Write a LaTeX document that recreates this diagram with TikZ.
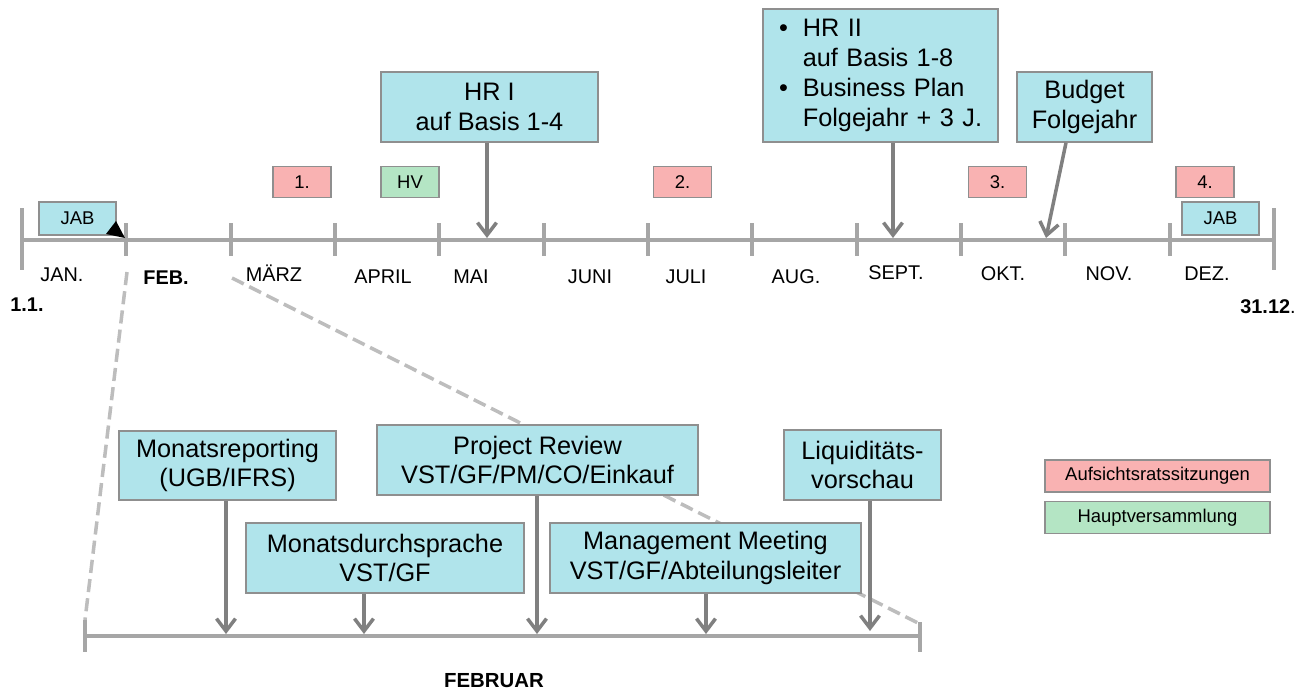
\documentclass[tikz,border=0pt]{standalone}
\usepackage{fontspec}
\setmainfont{Liberation Sans}
\usetikzlibrary{arrows.meta}
\definecolor{boxcyan}{HTML}{B0E4EB}
\definecolor{boxred}{HTML}{F9B2B2}
\definecolor{boxgreen}{HTML}{B4E5C4}
\definecolor{framegray}{HTML}{8F8F8F}
\definecolor{linegray}{HTML}{A6A6A6}
\definecolor{arrowgray}{HTML}{808080}
\definecolor{dashgray}{HTML}{BDBDBD}

\begin{document}
\begin{tikzpicture}[x=0.02cm,y=-0.02cm,
  axis/.style={draw=linegray,line width=2.3pt},
  zoomline/.style={draw=dashgray,line width=2pt,dash pattern=on 7.5pt off 3.5pt},
  arr/.style={draw=arrowgray,line width=2pt,-{Straight Barb[length=0.25cm,width=0.38cm]}},
  box/.style={draw=framegray,line width=0.8pt,fill=boxcyan,inner sep=0pt,
    align=center,font=\fontsize{14.4}{17}\selectfont},
  tag/.style={draw=framegray,line width=0.8pt,inner sep=0pt,minimum width=1.16cm,
    minimum height=0.62cm,font=\fontsize{10.5}{12}\selectfont},
  month/.style={font=\fontsize{11.3}{13}\selectfont}]
\useasboundingbox (0,0) rectangle (1308,691);

% Jahresachse
\coordinate (jan1) at (22,240);
\coordinate (dec31) at (1274,240);
\draw[axis] (jan1) -- (dec31);
\draw[axis] (22,208) -- (22,270);
\draw[axis] (1274,208) -- (1274,270);
\foreach \i in {1,...,11}
  \draw[axis] ({22+104.33*\i},223) -- ++(0,33);

\node[month] (mjan) at (62,275) {JAN.};
\node[month,font=\fontsize{11.3}{13}\selectfont\bfseries] (mfeb) at (166,278) {FEB.};
\node[month] (mmar) at (274,273) {MÄRZ};
\node[month] (mapr) at (383,277) {APRIL};
\node[month] (mmai) at (471,277) {MAI};
\node[month] (mjun) at (590,277) {JUNI};
\node[month] (mjul) at (686,277) {JULI};
\node[month] (maug) at (796,277) {AUG.};
\node[month] (msep) at (896,273) {SEPT.};
\node[month] (mokt) at (1003,274) {OKT.};
\node[month] (mnov) at (1109,274) {NOV.};
\node[month] (mdez) at (1207,274) {DEZ.};
\node[month,font=\fontsize{11.3}{13}\selectfont\bfseries] (start) at (27,305) {1.1.};
\node[month] (end) at (1268,307) {\textbf{31.12}.};

% Lupe Februar
\coordinate (febl) at (127,272);
\coordinate (febr) at (232,278);
\coordinate (feb1) at (85,636);
\coordinate (feb28) at (920,636);
\draw[zoomline] (febl) -- (85,620);
\draw[zoomline] (febr) -- (920,624);
\draw[axis] (feb1) -- (feb28);
\draw[axis] (85,620) -- (85,652);
\draw[axis] (920,622) -- (920,652);
\node[month,font=\fontsize{11.6}{13}\selectfont\bfseries] (februar) at (494,681) {FEBRUAR};

% Sitzungen
\node[tag,fill=boxred] (ar1) at (302,182) {1.};
\node[tag,fill=boxgreen] (hv) at (410,182) {HV};
\node[tag,fill=boxred] (ar2) at (682.5,182) {2.};
\node[tag,fill=boxred] (ar3) at (997.5,182) {3.};
\node[tag,fill=boxred] (ar4) at (1205,182) {4.};
\node[tag,fill=boxcyan,minimum width=1.54cm,minimum height=0.66cm] (jabjan) at (77.5,218.5) {JAB};
\node[tag,fill=boxcyan,minimum width=1.54cm,minimum height=0.66cm] (jabdez) at (1220.5,218.5) {JAB};
\fill[black] (106,234) -- (116,221) -- (125,238) -- cycle;

% Hochrechnungen und Budget
\node[box,minimum width=4.34cm,minimum height=1.4cm] (hr1) at (489.5,107) {HR I\\auf Basis 1-4};
\node[box,minimum width=4.7cm,minimum height=2.66cm,text width=4.06cm,align=left] (hr2) at (880.5,75.5)
  {\begin{tabular}{@{}l@{\hspace{8.5pt}}l@{}}
   \textbullet & HR II\\ & auf Basis 1-8\\ \textbullet & Business Plan\\ & Folgejahr + 3 J.
   \end{tabular}};
\node[box,minimum width=2.7cm,minimum height=1.4cm] (budget) at (1084.5,107) {Budget\\Folgejahr};
\coordinate (mai) at (487,238);
\coordinate (sept) at (893,238);
\coordinate (okt) at (1046,238);
\draw[arr] (hr1.south -| mai) -- (mai);
\draw[arr] (hr2.south -| sept) -- (sept);
\draw[arr] ([xshift=-0.37cm]budget.south) -- (okt);

% Termine im Februar
\node[box,minimum width=4.34cm,minimum height=1.38cm] (report) at (227.5,465.5) {Monatsreporting\\(UGB/IFRS)};
\node[box,minimum width=5.56cm,minimum height=1.4cm] (durch) at (385,558) {Monatsdurchsprache\\VST/GF};
\node[box,minimum width=6.42cm,minimum height=1.4cm] (review) at (537.5,460) {Project Review\\VST/GF/PM/CO/Einkauf};
\node[box,minimum width=6.22cm,minimum height=1.4cm] (mgmt) at (705.5,558) {Management Meeting\\VST/GF/Abteilungsleiter};
\node[box,minimum width=3.14cm,minimum height=1.4cm] (liqui) at (862.5,465) {Liquiditäts-\\vorschau};
\coordinate (f1) at (226,634);
\coordinate (f2) at (364,634);
\coordinate (f3) at (537,634);
\coordinate (f4) at (706,634);
\coordinate (f5) at (870,631);
\draw[arr] (report.south -| f1) -- (f1);
\draw[arr] (durch.south -| f2) -- (f2);
\draw[arr] (review.south -| f3) -- (f3);
\draw[arr] (mgmt.south -| f4) -- (f4);
\draw[arr] (liqui.south -| f5) -- (f5);

% Legende
\node[tag,fill=boxred,minimum width=4.5cm,minimum height=0.64cm] (legar) at (1157.5,476) {Aufsichtsratssitzungen};
\node[tag,fill=boxgreen,minimum width=4.5cm,minimum height=0.64cm] (leghv) at (1157.5,517.5) {Hauptversammlung};
\end{tikzpicture}
\end{document}
